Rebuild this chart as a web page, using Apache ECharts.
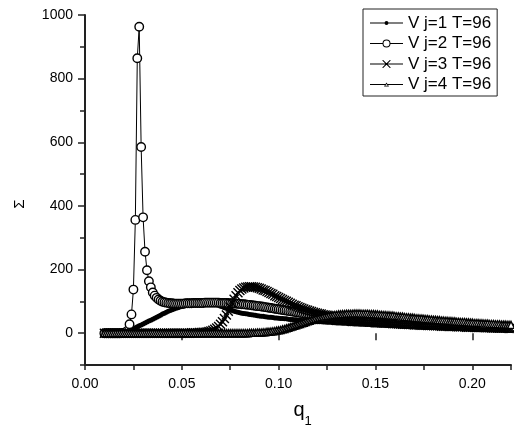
<!DOCTYPE html>
<html>
<head>
<meta charset="utf-8">
<script src="https://cdn.jsdelivr.net/npm/echarts@6/dist/echarts.min.js"></script>
<style>
html,body{margin:0;padding:0;background:#fff;}
#chart{width:514px;height:430px;}
</style>
</head>
<body>
<div id="chart"></div>
<script>
// x values (q1)
var q1 = [
0.010,0.011,0.012,0.013,0.014,0.015,0.016,0.017,0.018,0.019,
0.020,0.021,0.022,0.023,0.024,0.025,0.026,0.027,0.028,0.029,
0.030,0.031,0.032,0.033,0.034,0.035,0.036,0.037,0.038,0.039,
0.040,0.041,0.042,0.043,0.044,0.045,0.046,0.047,0.048,0.049,
0.050,0.051,0.052,0.053,0.054,0.055,0.056,0.057,0.058,0.059,
0.060,0.061,0.062,0.063,0.064,0.065,0.066,0.067,0.068,0.069,
0.070,0.071,0.072,0.073,0.074,0.075,0.076,0.077,0.078,0.079,
0.080,0.081,0.082,0.083,0.084,0.085,0.086,0.087,0.088,0.089,
0.090,0.091,0.092,0.093,0.094,0.095,0.096,0.097,0.098,0.099,
0.100,0.101,0.102,0.103,0.104,0.105,0.106,0.107,0.108,0.109,
0.110,0.111,0.112,0.113,0.114,0.115,0.116,0.117,0.118,0.119,
0.120,0.121,0.122,0.123,0.124,0.125,0.126,0.127,0.128,0.129,
0.130,0.131,0.132,0.133,0.134,0.135,0.136,0.137,0.138,0.139,
0.140,0.141,0.142,0.143,0.144,0.145,0.146,0.147,0.148,0.149,
0.150,0.151,0.152,0.153,0.154,0.155,0.156,0.157,0.158,0.159,
0.160,0.161,0.162,0.163,0.164,0.165,0.166,0.167,0.168,0.169,
0.170,0.171,0.172,0.173,0.174,0.175,0.176,0.177,0.178,0.179,
0.180,0.181,0.182,0.183,0.184,0.185,0.186,0.187,0.188,0.189,
0.190,0.191,0.192,0.193,0.194,0.195,0.196,0.197,0.198,0.199,
0.200,0.201,0.202,0.203,0.204,0.205,0.206,0.207,0.208,0.209,
0.210,0.211,0.212,0.213,0.214,0.215,0.216,0.217,0.218,0.219,0.220
];
// Sigma, j=1
var sigJ1 = [
0,0,0,0,0,0,1,1,2,3,
5,6,8,10,12,15,17,20,23,26,
29,32,35,38,41,44,47,50,53,56,
60,63,66,69,71,74,76,78,80,82,
84,85,87,88,89,90,91,92,93,93,
94,94,94,94,93,93,92,91,90,88,
85,83,80,78,75,73,71,69,67,66,
64,63,62,61,60,59,58,57,56,55,
54,53,53,52,51,50,50,49,48,48,
47,46,46,45,45,44,43,43,42,42,
41,41,40,40,39,39,38,38,37,37,
36,36,36,35,35,34,34,34,33,33,
32,32,32,31,31,31,30,30,30,29,
29,29,28,28,28,27,27,27,26,26,
26,26,25,25,25,25,24,24,24,23,
23,23,23,22,22,22,22,21,21,21,
21,20,20,20,20,19,19,19,19,18,
18,18,18,18,17,17,17,17,17,16,
16,16,16,16,15,15,15,15,15,15,
14,14,14,14,14,13,13,13,13,13,
13,12,12,12,12,12,12,11,11,11,11
];
// Sigma, j=2
var sigJ2 = [
0,0,0,0,0,0,0,0,0,1,
1,3,8,28,59,137,356,864,963,585,
364,256,198,163,144,128,118,111,106,102,
99,97,96,95,94,94,93,93,93,93,
93,93,94,94,94,94,95,95,95,95,
95,95,96,96,96,96,96,96,96,96,
95,95,95,95,94,94,94,93,93,92,
92,91,91,90,89,89,88,87,86,85,
85,84,83,82,81,80,79,78,77,76,
75,74,73,72,71,70,69,68,67,66,
65,64,63,62,61,60,59,58,57,57,
56,55,54,53,53,52,51,50,50,49,
48,47,47,46,45,45,44,44,43,42,
42,41,41,40,40,39,39,38,38,37,
37,36,36,35,35,34,34,34,33,33,
32,32,32,31,31,30,30,30,29,29,
29,28,28,28,27,27,27,26,26,26,
25,25,25,25,24,24,24,23,23,23,
23,22,22,22,22,21,21,21,21,20,
20,20,20,19,19,19,19,19,18,18,
18,18,17,17,17,17,17,16,16,16,16
];
// Sigma, j=3
var sigJ3 = [
0,0,0,0,0,0,0,0,0,0,
0,0,0,0,0,0,0,0,0,0,
0,0,0,0,0,0,0,0,0,0,
0,0,0,0,0,0,0,0,0,0,
0,0,0,0,0,1,1,1,1,2,
2,3,3,4,5,7,9,12,16,21,
28,36,46,57,69,82,95,107,118,127,
134,139,142,144,145,146,146,145,144,143,
141,139,136,134,131,128,125,122,118,115,
112,109,106,103,100,97,94,91,88,86,
83,81,78,76,74,72,70,68,66,64,
63,61,60,58,57,56,54,53,52,51,
50,49,48,47,46,45,44,43,43,42,
41,40,40,39,38,38,37,36,36,35,
35,34,34,33,33,32,32,31,31,30,
30,30,29,29,28,28,28,27,27,27,
26,26,26,25,25,25,25,24,24,24,
23,23,23,23,22,22,22,22,21,21,
21,21,20,20,20,20,20,19,19,19,
19,19,18,18,18,18,18,17,17,17,
17,17,17,16,16,16,16,16,16,15,15
];
// Sigma, j=4
var sigJ4 = [
0,0,0,0,0,0,0,0,0,0,
0,0,0,0,0,0,0,0,0,0,
0,0,0,0,0,0,0,0,0,0,
0,0,0,0,0,0,0,0,0,0,
0,0,0,0,0,0,0,0,0,0,
0,0,0,0,0,0,0,0,0,0,
0,0,0,0,0,0,0,0,0,0,
0,0,0,0,0,1,1,1,1,2,
2,2,3,3,4,4,5,6,7,8,
9,10,12,13,15,17,19,21,23,25,
27,29,31,33,35,37,39,41,43,45,
46,48,49,51,52,53,54,55,56,57,
58,59,59,60,60,61,61,61,61,62,
62,62,62,61,61,61,61,60,60,60,
59,59,58,58,57,57,56,56,55,55,
54,53,53,52,52,51,50,50,49,49,
48,47,47,46,46,45,44,44,43,43,
42,42,41,41,40,40,39,39,38,38,
37,37,36,36,35,35,35,34,34,33,
33,32,32,32,31,31,30,30,30,29,
29,29,28,28,28,27,27,27,26,26,26
];
var seriesNames = ['V j=1 T=96','V j=2 T=96','V j=3 T=96','V j=4 T=96'];
var yTickLabels = [0,200,400,600,800,1000];
var xTickLabels = [0.00,0.05,0.10,0.15,0.20];

function pairs(ys){ return q1.map(function(q,i){ return [q, ys[i]]; }); }

var FONT = '"Liberation Sans", Arial, sans-serif';
var AX = '#222';
var CORNERS = 'M0,0L0.01,0L0,0.01Z M33,10L32.99,10L33,9.99Z ';
var icons = [
  'path://' + CORNERS + 'M0,4.5L33,4.5L33,5.5L0,5.5Z M14.5,5A2,2 0 1 1 18.5,5A2,2 0 1 1 14.5,5Z',
  'path://' + CORNERS + 'M0,4.5L12.6,4.5L12.6,5.5L0,5.5Z M20.4,4.5L33,4.5L33,5.5L20.4,5.5Z M12.5,5A4,4 0 1 1 20.5,5A4,4 0 1 1 12.5,5Z M13.5,5A3,3 0 1 0 19.5,5A3,3 0 1 0 13.5,5Z',
  'path://' + CORNERS + 'M0,4.5L33,4.5L33,5.5L0,5.5Z M12.5,1L13.2,1L20.5,8.3L20.5,9L19.8,9L12.5,1.7Z M20.5,1L20.5,1.7L13.2,9L12.5,9L12.5,8.3L19.8,1Z',
  'path://' + CORNERS + 'M0,4.5L15.4,4.5L15.4,5.5L0,5.5Z M17.6,4.5L33,4.5L33,5.5L17.6,5.5Z M16.5,3L19,7L14,7Z M16.5,4.4L15.2,6.3L17.8,6.3Z'
];

var chart = echarts.init(document.getElementById('chart'), null, {renderer:'canvas'});
var option = {
  animation: false,
  backgroundColor: '#fff',
  grid: {left: 85, top: 15, width: 431.2, height: 350, containLabel: false},
  legend: {
    left: 363, top: 9, orient: 'vertical',
    itemWidth: 33, itemHeight: 10, itemGap: 3.5,
    padding: [5.5, 6, 3, 7],
    borderColor: '#222', borderWidth: 1,
    selectedMode: false,
    itemStyle: {borderWidth: 0},
    textStyle: {fontSize: 17, fontFamily: FONT, color: '#000'},
    data: seriesNames.map(function(n, i){
      return {name: n, icon: icons[i], itemStyle: {color: '#000', borderWidth: 0}};
    })
  },
  xAxis: [{
    type: 'value', min: 0, max: 0.22, interval: 0.025,
    axisLine: {show: true, onZero: false, lineStyle: {color: AX, width: 2}},
    axisTick: {show: true, length: 5, lineStyle: {color: AX, width: 1.5}},
    axisLabel: {
      margin: 12, fontSize: 14, fontFamily: FONT, color: '#000',
      formatter: function(v){
        for (var k = 0; k < xTickLabels.length; k++) {
          if (Math.abs(v - xTickLabels[k]) < 1e-9) return xTickLabels[k].toFixed(2);
        }
        return '';
      }
    },
    splitLine: {show: false}
  }, {
    type: 'value', min: 0, max: 0.22, position: 'bottom', offset: 0,
    axisLine: {show: false},
    axisTick: {show: true, length: 7, customValues: xTickLabels, lineStyle: {color: AX, width: 1.5}},
    axisLabel: {show: false},
    splitLine: {show: false}
  }],
  yAxis: [{
    type: 'value', min: -100, max: 1000, interval: 100,
    axisLine: {show: true, onZero: false, lineStyle: {color: AX, width: 2}},
    axisTick: {show: true, length: 5, lineStyle: {color: AX, width: 1.5}},
    axisLabel: {
      margin: 12, fontSize: 14, fontFamily: FONT, color: '#000',
      formatter: function(v){ return yTickLabels.indexOf(v) >= 0 ? String(v) : ''; }
    },
    splitLine: {show: false}
  }, {
    type: 'value', min: -100, max: 1000, position: 'left', offset: 0,
    axisLine: {show: false},
    axisTick: {show: true, length: 7, customValues: yTickLabels, lineStyle: {color: AX, width: 1.5}},
    axisLabel: {show: false},
    splitLine: {show: false}
  }],
  graphic: [
    {type: 'text', x: 20, y: 204, rotation: Math.PI / 2,
     style: {text: 'Σ', fontSize: 15, fontFamily: FONT, fill: '#000', textAlign: 'center', textVerticalAlign: 'middle'}},
    {type: 'text', x: 299, y: 410,
     style: {text: 'q', fontSize: 20, fontFamily: FONT, fill: '#000', textAlign: 'center', textVerticalAlign: 'middle'}},
    {type: 'text', x: 308, y: 421,
     style: {text: '1', fontSize: 13, fontFamily: FONT, fill: '#000', textAlign: 'center', textVerticalAlign: 'middle'}}
  ],
  series: [
    {type: 'line', name: seriesNames[0], data: pairs(sigJ1),
     symbol: 'circle', symbolSize: 5,
     lineStyle: {color: '#000', width: 1}, itemStyle: {color: '#000'}},
    {type: 'line', name: seriesNames[1], data: pairs(sigJ2),
     symbol: 'circle', symbolSize: 8.5,
     lineStyle: {color: '#000', width: 1}, itemStyle: {color: '#fff', borderColor: '#000', borderWidth: 1.4}},
    {type: 'line', name: seriesNames[2], data: pairs(sigJ3),
     symbol: 'path://M0,0L10,10M10,0L0,10', symbolSize: 9,
     lineStyle: {color: '#000', width: 1}, itemStyle: {color: '#000', borderColor: '#000', borderWidth: 1.4}},
    {type: 'line', name: seriesNames[3], data: pairs(sigJ4),
     symbol: 'triangle', symbolSize: 7,
     lineStyle: {color: '#000', width: 1}, itemStyle: {color: '#fff', borderColor: '#000', borderWidth: 1.4}}
  ]
};
chart.setOption(option);
</script>
</body>
</html>
